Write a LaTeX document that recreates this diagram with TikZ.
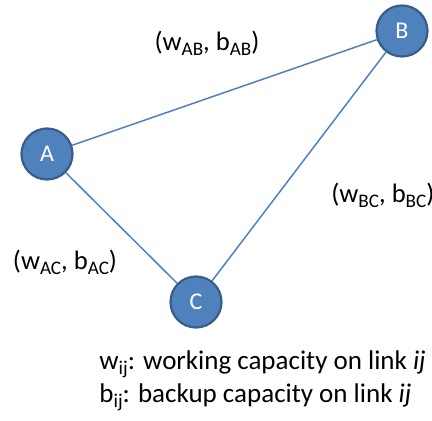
\documentclass[tikz,border=0pt]{standalone}
\usepackage{fontspec}
\setmainfont{Carlito}
\usetikzlibrary{positioning}
\definecolor{nodeblue}{HTML}{4F81BD}
\definecolor{nodeedge}{HTML}{385D8A}
\newcommand\lsub[1]{\raisebox{-0.18em}{\scalebox{0.72}{#1}}}

\begin{document}
\begin{tikzpicture}[x=0.5pt,y=-0.5pt,
    vertex/.style={circle,fill=nodeblue,draw=nodeedge,line width=1.1pt,minimum size=25.5pt,inner sep=0pt,text=white,font=\fontsize{12}{14}\selectfont},
    link/.style={draw=nodeblue,line width=0.75pt},
    lbl/.style={font=\fontsize{13.3}{16}\selectfont,inner sep=0pt},
    key/.style={font=\fontsize{13.5}{16.5}\selectfont,inner sep=0pt,align=left}]
                      \useasboundingbox(0,0)rectangle(432,421);
                      \node[vertex](a)at(47,154){A};
                      \node[vertex](b)at(402,31){B};
                      \node[vertex](c)at(196,302){C};
                      \draw[link](a)--(b);
                      \draw[link](b)--(c);
                      \draw[link](a)--(c);
                      \node[lbl](ab)at(207,43){(w\lsub{AB}, b\lsub{AB})};
                      \node[lbl,anchor=west](bc)at(331,195){(w\lsub{BC}, b\lsub{BC})};
                      \node[lbl](ac)at(65,262){(w\lsub{AC}, b\lsub{AC})};
                      \node[key,anchor=west](legend)at(99,381){w\lsub{ij}: working capacity on link \textit{ij}\\b\lsub{ij}: backup capacity on link \textit{ij}};
                  \end{tikzpicture}
\end{document}
